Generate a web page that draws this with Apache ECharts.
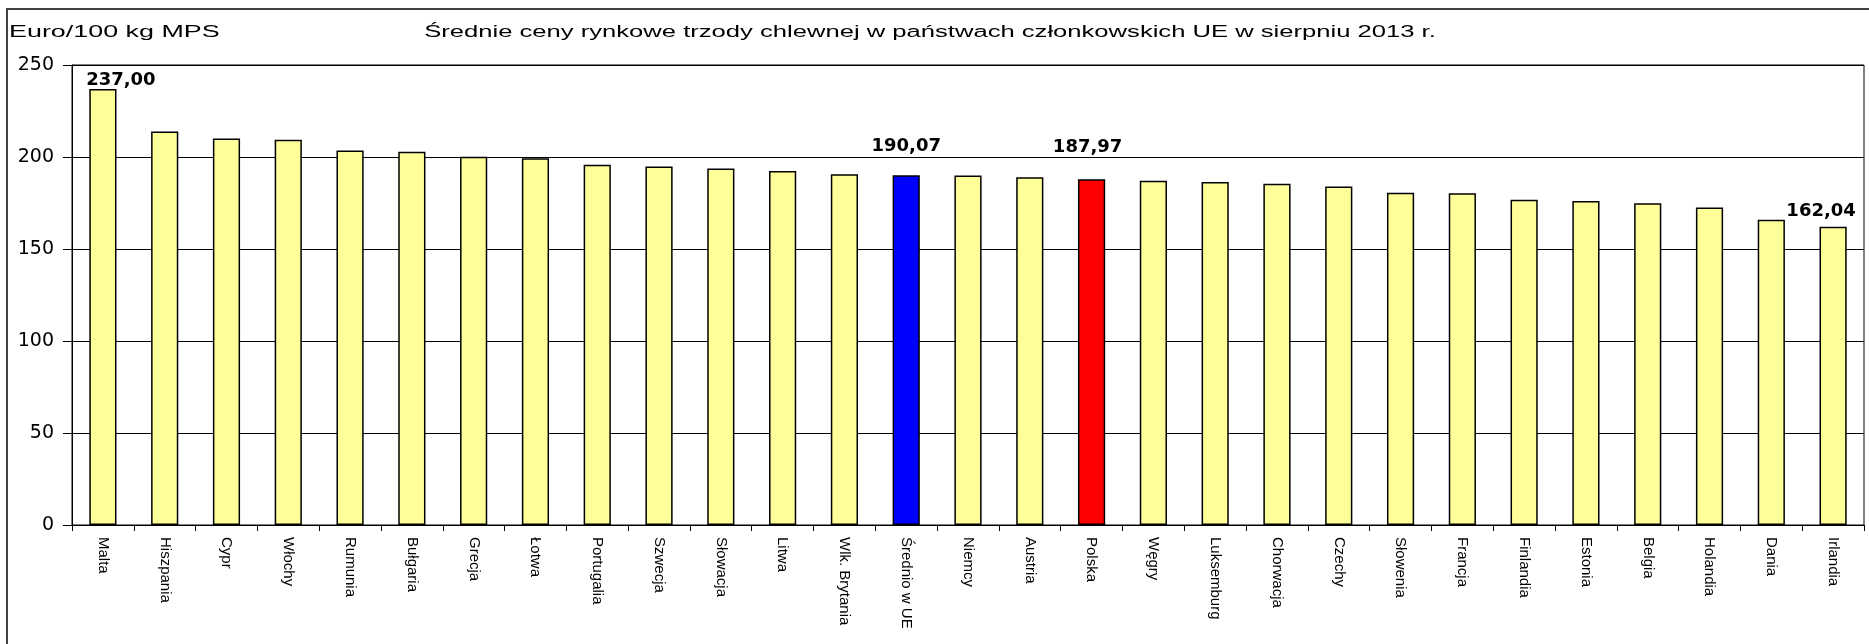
<!DOCTYPE html>
<html>
<head>
<meta charset="utf-8">
<title>Średnie ceny rynkowe trzody chlewnej</title>
<script src="https://cdn.jsdelivr.net/npm/echarts@6/dist/echarts.min.js"></script>
<style>
  html, body { margin: 0; padding: 0; background: #fff; }
  #chart { width: 1869px; height: 644px; }
</style>
</head>
<body>
<div id="chart"></div>
<script>
var countries = [
  "Malta", "Hiszpania", "Cypr", "Włochy", "Rumunia", "Bułgaria", "Grecja",
  "Łotwa", "Portugalia", "Szwecja", "Słowacja", "Litwa", "Wlk. Brytania",
  "Średnio w UE", "Niemcy", "Austria", "Polska", "Węgry", "Luksemburg",
  "Chorwacja", "Czechy", "Słowenia", "Francja", "Finlandia", "Estonia",
  "Belgia", "Holandia", "Dania", "Irlandia"
]
var prices = [
  237.00, 213.8, 210.1, 209.4, 203.6, 202.9, 200.2,
  199.3, 195.8, 194.8, 193.7, 192.4, 190.6,
  190.07, 190.0, 189.0, 187.97, 187.1, 186.4,
  185.5, 183.9, 180.6, 180.3, 176.8, 176.1,
  174.8, 172.6, 165.9, 162.04
]
var yTicks = [0, 50, 100, 150, 200, 250]
var unitText = "Euro/100 kg MPS"
var titleText = "Średnie ceny rynkowe trzody chlewnej w państwach członkowskich UE w sierpniu 2013 r."

// bars that get a special colour / a value label
var barColors = { "Średnio w UE": "#0000ff", "Polska": "#ff0000" }
var labelOffsets = {
  "Malta": [18, 5],
  "Średnio w UE": [0, -15],
  "Polska": [-4, -18],
  "Irlandia": [-12, -2],
}

var chart = echarts.init(document.getElementById("chart"), null, { renderer: "canvas" })

var barData = prices.map(function(v, i) {
  var name = countries[i]
  var item = {
    value: v,
    itemStyle: { color: barColors[name] || "#ffff99" },
  }
  if (labelOffsets[name]) {
    item.label = { show: true, offset: labelOffsets[name] }
  }
  return item
})

var option = {
  animation: false,
  backgroundColor: "#ffffff",
  graphic: [
    {
      type: "rect",
      shape: { x: 7, y: 9, width: 1950, height: 700 },
      style: { fill: null, stroke: "#404040", lineWidth: 2 },
      silent: true,
    },
    {
      type: "text",
      x: 9,
      y: 33,
      scaleX: 1.68,
      style: {
        text: unitText,
        fill: "#000",
        font: "16px 'Liberation Sans', Arial, sans-serif",
        textAlign: "left",
        textVerticalAlign: "middle",
      },
    },
    {
      type: "text",
      x: 930,
      y: 33,
      scaleX: 1.6,
      style: {
        text: titleText,
        fill: "#000",
        font: "16px 'Liberation Sans', Arial, sans-serif",
        textAlign: "center",
        textVerticalAlign: "middle",
      },
    },
  ],
  grid: {
    left: 72,
    right: 5,
    top: 65,
    bottom: 119,
    show: true,
    borderColor: "#000",
    borderWidth: 1,
  },
  xAxis: {
    type: "category",
    data: countries,
    axisLine: { lineStyle: { color: "#000", width: 1 } },
    axisTick: { show: true, length: 6, lineStyle: { color: "#000" } },
    axisLabel: {
      rotate: -90,
      interval: 0,
      margin: 12,
      color: "#000",
      fontSize: 15,
      fontFamily: "'Liberation Sans', Arial, sans-serif",
    },
  },
  yAxis: {
    type: "value",
    min: yTicks[0],
    max: yTicks[yTicks.length - 1],
    interval: 50,
    axisLine: { show: true, lineStyle: { color: "#000", width: 1 } },
    axisTick: { show: true, length: 9, lineStyle: { color: "#000" } },
    axisLabel: {
      margin: 18,
      color: "#000",
      fontSize: 19,
      fontFamily: "'DejaVu Sans', sans-serif",
    },
    splitLine: { show: true, lineStyle: { color: "#000", width: 1 } },
  },
  series: [
    {
      type: "bar",
      data: barData,
      barWidth: "44%",
      itemStyle: { borderColor: "#000", borderWidth: 1.5 },
      label: {
        show: false,
        position: "top",
        color: "#000",
        fontWeight: "bold",
        fontSize: 18,
        fontFamily: "'DejaVu Sans', sans-serif",
        formatter: function(p) {
          return p.value.toFixed(2).replace(".", ",")
        },
      },
    },
  ],
}

chart.setOption(option)
</script>
</body>
</html>
